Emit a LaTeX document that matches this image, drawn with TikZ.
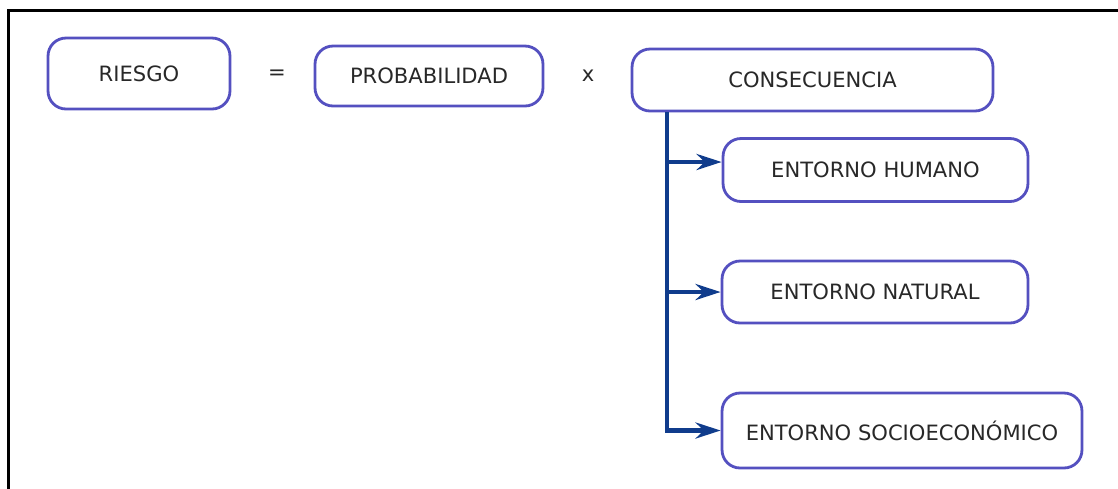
\documentclass[tikz,border=0pt]{standalone}
\usepackage{fontspec}
\setmainfont{DejaVu Sans}
\usetikzlibrary{arrows.meta}
\definecolor{boxline}{RGB}{84,80,192}
\definecolor{linkline}{RGB}{16,60,140}
\definecolor{txt}{RGB}{40,40,40}
\tikzset{
  box/.style={draw=boxline, line width=1.6pt, rounded corners=0.36cm, fill=white,
    text=txt, font=\fontsize{12}{14}\selectfont, inner sep=0pt},
  link/.style={draw=linkline, line width=2.5pt, -{Stealth[length=0.5cm,width=0.32cm]}},
}
\begin{document}
\begin{tikzpicture}[x=0.02cm,y=-0.02cm]
      \useasboundingbox (0,0) rectangle (1118,488);
      \draw[line width=1.7pt] (8.5,500) -- (8.5,10) -- (1130,10);
      \draw
        (139,73.5) node[box, minimum width=3.64cm, minimum height=1.42cm] (riesgo){RIESGO}
        (277,75) node[text=txt, font=\fontsize{12}{14}\selectfont] (eq){=}
        (429,76) node[box, minimum width=4.56cm, minimum height=1.2cm] (prob){PROBABILIDAD}
        (588,76) node[text=txt, font=\fontsize{12}{14}\selectfont] (por){x}
        (812.5,80) node[box, minimum width=7.22cm, minimum height=1.24cm] (cons){CONSECUENCIA}
        (875.5,170) node[box, minimum width=6.1cm, minimum height=1.26cm] (humano){ENTORNO HUMANO}
        (875,292) node[box, minimum width=6.12cm, minimum height=1.24cm] (natural){ENTORNO NATURAL}
        (902,430.5) node[box, minimum width=7.2cm, minimum height=1.5cm] (socio){ENTORNO SOCIOECONÓMICO};
      \coordinate (trunk) at (667,112);
      \begin{scope}[link]
        \draw (trunk) |- (socio.west);
        \draw (trunk |- 0,162) -- (humano.west |- 0,162);
        \draw (trunk |- natural.west) -- (natural.west);
      \end{scope}
    \end{tikzpicture}
\end{document}
